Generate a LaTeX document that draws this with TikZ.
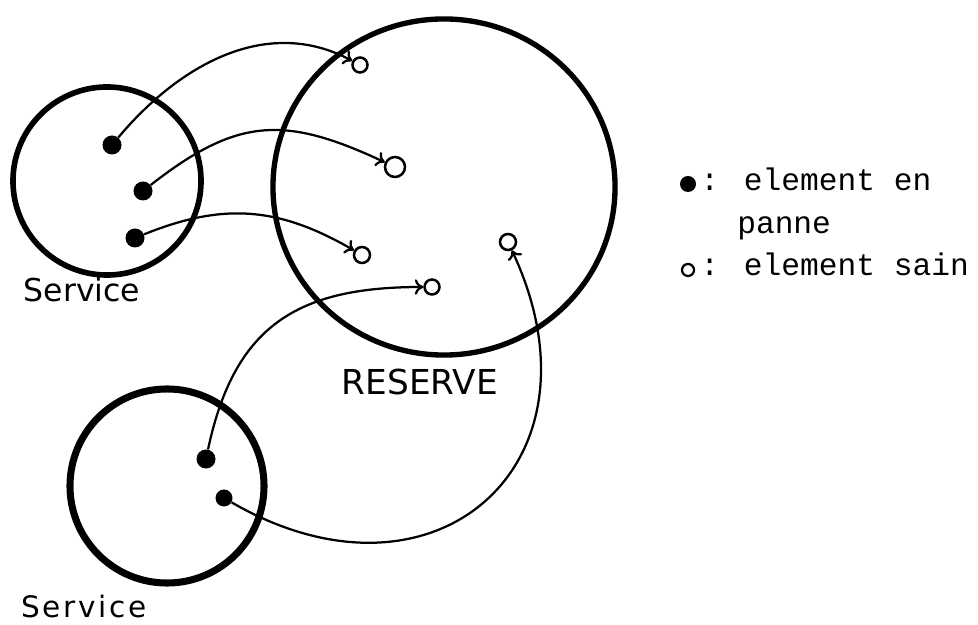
\documentclass[tikz,border=0pt]{standalone}
\usepackage{fontspec}
\usetikzlibrary{arrows.meta,shapes.geometric}
\newfontfamily\lettrage{DejaVu Sans}
\newfontfamily\machine{Liberation Mono}

\begin{document}
\begin{tikzpicture}[x=0.025cm, y=0.025cm,
    ensemble/.style={draw, circle, line width=4pt, inner sep=0pt},
    panne/.style={circle, fill, inner sep=0pt, minimum size=0.475cm},
    sain/.style={circle, draw, line width=1.8pt, inner sep=0pt, minimum size=0.4cm},
    lien/.style={line width=1.6pt, -{To[length=6pt,width=11pt]}},
    titre/.style={font=\lettrage\fontsize{22.4}{26}\selectfont, inner sep=0pt},
    legende/.style={font=\machine\fontsize{22.2}{26}\selectfont, inner sep=0pt, anchor=base west}]
    \useasboundingbox (0,0) rectangle (978,624);

    % les trois ensembles
    \node[ensemble, minimum size=4.7cm] (serv1) at (107,443) {};
    \node[ensemble, ellipse, line width=3.8pt, minimum width=8.55cm, minimum height=8.4cm] (reserve) at (444,437) {};
    \node[ensemble, line width=5pt, minimum size=4.85cm] (serv2) at (167,138) {};

    % elements en panne
    \node[panne] (p1) at (112,479) {};
    \node[panne] (p2) at (143,433) {};
    \node[panne] (p3) at (135,386) {};
    \node[panne] (p4) at (206,165) {};
    \node[panne, minimum size=0.425cm] (p5) at (224,126) {};

    % elements sains
    \node[sain, minimum size=0.375cm] (s1) at (360,559) {};
    \node[sain, minimum size=0.5cm] (s2) at (395,457) {};
    \node[sain] (s3) at (362,369) {};
    \node[sain, minimum size=0.375cm] (s4) at (432,337) {};
    \node[sain] (s5) at (508,382) {};

    % remplacements
    \draw[lien] (p1) to[out=50, in=152, looseness=1.0] (s1);
    \draw[lien] (p2) to[out=38, in=155, looseness=1.2] (s2);
    \draw[lien] (p3) to[out=22, in=150, looseness=1.05] (s3);
    \draw[lien] (p4) to[out=78, in=180, looseness=1.2] (s4);
    \draw[lien] (p5) to[out=-30, in=-65, looseness=1.6] (s5);

    % noms
    \node[titre] (nserv1) at (82,334) {Service};
    \node[titre, font=\lettrage\addfontfeatures{LetterSpace=9}\fontsize{21}{24}\selectfont] (nserv2) at (84,18) {Service};
    \node[titre, font=\lettrage\fontsize{24.4}{28}\selectfont] (nres) at (420,242) {RESERVE};

    % legende
    \node[panne, minimum size=0.4cm] (lp) at (688,440) {};
    \node[legende] (lt1) at (700,433) {: element en};
    \node[legende] (lt2) at (737,390) {panne};
    \node[sain, minimum size=0.3cm, line width=1.6pt] (ls) at (688,354) {};
    \node[legende] (lt3) at (700,348) {: element sain};
\end{tikzpicture}
\end{document}
